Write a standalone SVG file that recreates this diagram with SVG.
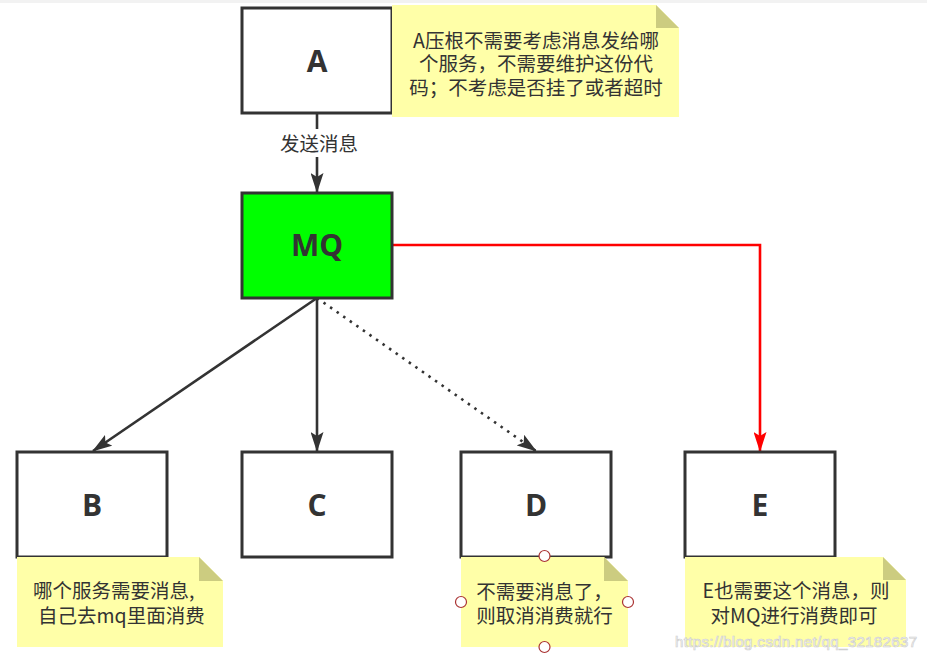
<svg xmlns="http://www.w3.org/2000/svg" width="927" height="661" viewBox="0 0 927 661">
<style>
.box{fill:#fff;stroke:#333;stroke-width:3}
.lbl{font-family:"Open Sans","Liberation Sans",sans-serif;font-weight:bold;font-size:30px;fill:#333;text-anchor:middle}
.note{fill:#ffffa8}
.fold{fill:#cccc80}
.nt{font-family:"Noto Sans CJK SC","Liberation Sans",sans-serif;font-size:19.5px;fill:#333}
.mid{text-anchor:middle}
.ln{fill:none;stroke:#333;stroke-width:2.6}
.handle{fill:#fff;stroke:#a33;stroke-width:1.2}
</style>
<defs>
<marker id="ah" viewBox="0 0 20 13" markerWidth="20" markerHeight="13" refX="19" refY="6.5" markerUnits="userSpaceOnUse" orient="auto">
<path d="M0,0 L20,6.5 L0,13 L4,6.5 Z" fill="#333"/>
</marker>
<marker id="ahr" viewBox="0 0 20 13" markerWidth="20" markerHeight="13" refX="19" refY="6.5" markerUnits="userSpaceOnUse" orient="auto">
<path d="M0,0 L20,6.5 L0,13 L4,6.5 Z" fill="#f00"/>
</marker>
</defs>
<rect x="0" y="0" width="927" height="661" fill="#fff"/>
<rect x="0" y="0" width="927" height="3" fill="#f2f2f2"/>

<g id="connectors">
<line class="ln" x1="317" y1="113" x2="317" y2="192" marker-end="url(#ah)"/>
<rect x="278" y="129" width="82" height="28" fill="#fff"/>
<text class="nt mid" x="319" y="150.5">发送消息</text>
<line class="ln" x1="317" y1="298" x2="93" y2="451" marker-end="url(#ah)"/>
<line class="ln" x1="317" y1="298" x2="317" y2="451" marker-end="url(#ah)"/>
<line class="ln" x1="317" y1="298" x2="536" y2="451" stroke-dasharray="2.5 5.5" marker-end="url(#ah)"/>
<polyline fill="none" stroke="#f00" stroke-width="2.6" points="392,245 760,245 760,451" marker-end="url(#ahr)"/>
</g>

<g id="A">
<rect class="box" x="242" y="8" width="150" height="105"/>
<text class="lbl" x="317" y="71.5">A</text>
</g>
<g id="noteA">
<path class="note" d="M392,5 H656 L679,28 V117 H392 Z"/>
<path class="fold" d="M656,5 L679,28 H656 Z"/>
<text class="nt mid" x="536" y="47.5">A压根不需要考虑消息发给哪</text>
<text class="nt mid" x="536" y="71">个服务，不需要维护这份代</text>
<text class="nt mid" x="536" y="94.5">码；不考虑是否挂了或者超时</text>
</g>

<g id="MQ">
<rect class="box" x="242" y="193" width="150" height="105" fill="#00ff00" style="fill:#00ff00"/>
<text class="lbl" x="317" y="256">MQ</text>
</g>

<g id="B">
<rect class="box" x="17" y="452" width="150" height="105"/>
<text class="lbl" x="92" y="515.5">B</text>
</g>
<g id="C">
<rect class="box" x="242" y="452" width="150" height="105"/>
<text class="lbl" x="317" y="515.5">C</text>
</g>
<g id="D">
<rect class="box" x="461" y="452" width="150" height="105"/>
<text class="lbl" x="536" y="515.5">D</text>
</g>
<g id="E">
<rect class="box" x="685" y="452" width="150" height="105"/>
<text class="lbl" x="760" y="515.5">E</text>
</g>

<g id="noteB">
<path class="note" d="M17,557 H199 L223,581 V647 H17 Z"/>
<path class="fold" d="M199,557 L223,581 H199 Z"/>
<text class="nt" x="33" y="597.5">哪个服务需要消息,</text>
<text class="nt" x="38" y="622.5">自己去mq里面消费</text>
</g>

<g id="noteD">
<path class="note" d="M461,557 H604 L628,581 V647 H461 Z"/>
<path class="fold" d="M604,557 L628,581 H604 Z"/>
<text class="nt mid" x="544.5" y="599">不需要消息了，</text>
<text class="nt mid" x="544.5" y="622.5">则取消消费就行</text>
<circle class="handle" cx="544.5" cy="556" r="5.5"/>
<circle class="handle" cx="461" cy="602" r="5.5"/>
<circle class="handle" cx="628" cy="602" r="5.5"/>
<circle class="handle" cx="544.5" cy="647" r="5.5"/>
</g>

<g id="noteE">
<path class="note" d="M685,557 H883 L906,580 V647 H685 Z"/>
<path class="fold" d="M883,557 L906,580 H883 Z"/>
<text class="nt mid" x="796" y="597.5">E也需要这个消息，则</text>
<text class="nt mid" x="794" y="622.5">对MQ进行消费即可</text>
</g>

<text x="675" y="647" font-family="Liberation Sans, Arial, sans-serif" font-size="15" fill="#fff" stroke="#cfcfcf" stroke-width="0.7" textLength="242">https://blog.csdn.net/qq_32182637</text>
</svg>
